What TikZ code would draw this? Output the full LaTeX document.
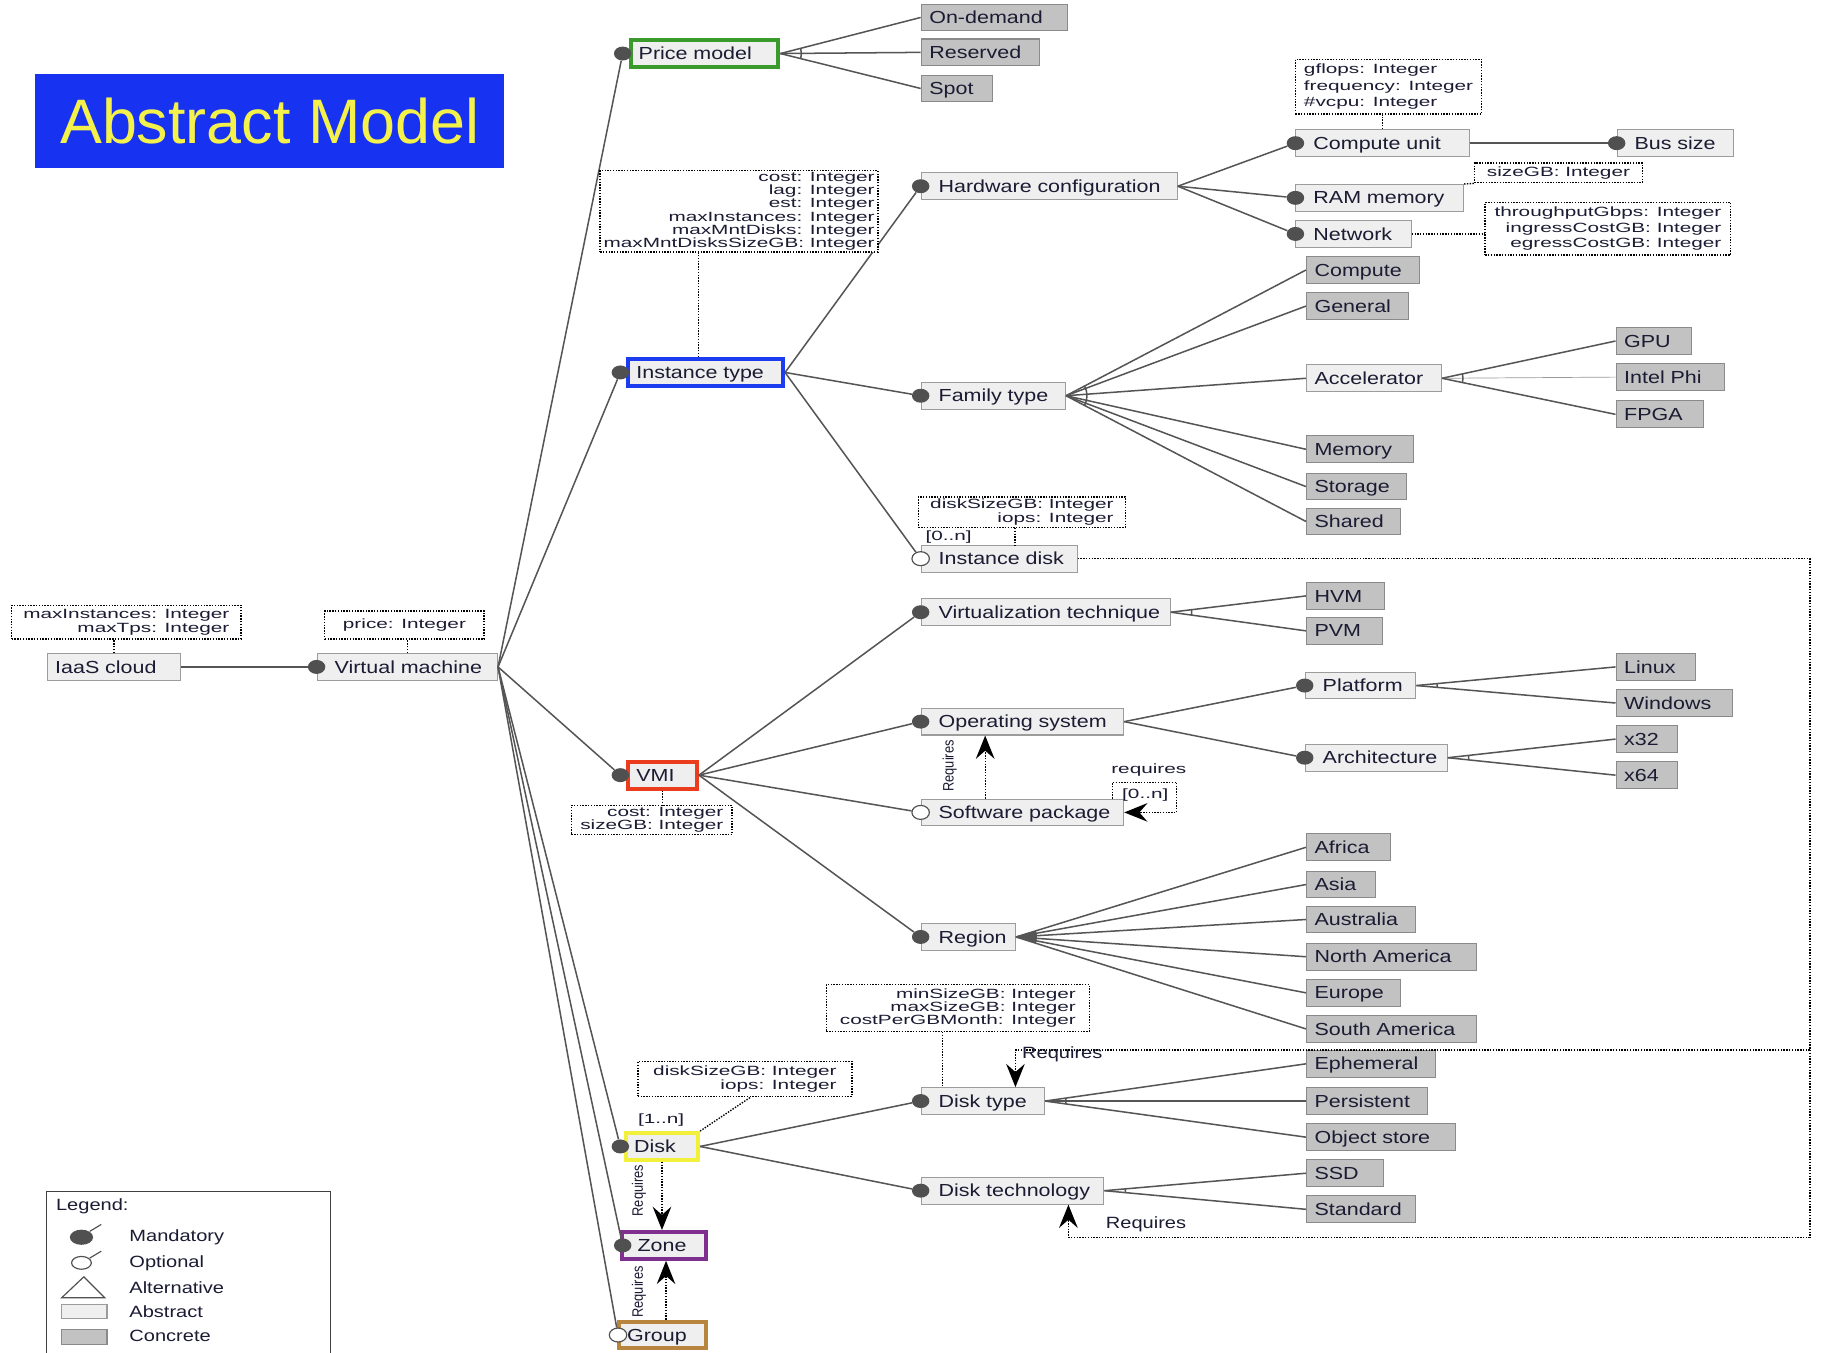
\documentclass[tikz,border=0pt]{standalone}
\usepackage{fontspec}
\setmainfont{Liberation Sans}
\newfontfamily\featfont{Liberation Sans}[FakeStretch=1.23]
\newfontfamily\attrfont{Liberation Sans}[FakeStretch=1.55]
\newfontfamily\narrowfont{Liberation Sans}[FakeStretch=0.85]
\usetikzlibrary{arrows.meta,calc,shapes.geometric}

\definecolor{absfill}{HTML}{EFEFEF}
\definecolor{absdraw}{HTML}{9C9C9C}
\definecolor{confill}{HTML}{C2C2C2}
\definecolor{condraw}{HTML}{8A8A8A}
\definecolor{edge}{HTML}{555555}
\definecolor{ink}{HTML}{1B1B33}
\definecolor{markc}{HTML}{505050}
\definecolor{hlgreen}{HTML}{3A9A2C}
\definecolor{hlblue}{HTML}{1C3CF0}
\definecolor{hlred}{HTML}{EC3C1E}
\definecolor{hlyellow}{HTML}{F3F03C}
\definecolor{hlpurple}{HTML}{7F2F8D}
\definecolor{hlbrown}{HTML}{B8853F}
\definecolor{titlebg}{HTML}{1832F2}
\definecolor{titlefg}{HTML}{F4F24A}

\newcommand\featpad{\hspace*{8pt}}

\tikzset{
  feat/.style={minimum height=23pt, inner xsep=7pt, inner ysep=0pt, anchor=west,
    align=left, text=ink, text height=10.5pt, text depth=0pt,
    font=\featfont\fontsize{15}{16}\selectfont, line width=0.9pt},
  abstr/.style={feat, draw=absdraw, fill=absfill},
  concr/.style={feat, draw=condraw, fill=confill},
  wd/.style={text width=#1pt-14pt},
  hl/.style={feat, draw=#1, fill=absfill, line width=3.5pt},
  mand/.style={ellipse, fill=markc, minimum width=15pt, minimum height=12pt, inner sep=0pt},
  opt/.style={ellipse, draw=markc, fill=white, line width=1pt, minimum width=15pt, minimum height=12pt, inner sep=0pt},
  link/.style={draw=edge, line width=1.3pt},
  attr/.style={draw=black, dash pattern=on 1.2pt off 1.2pt, line width=1.2pt, fill=white,
    inner xsep=3pt, inner ysep=1pt, text=ink, font=\attrfont\fontsize{11.5}{11.5}\selectfont},
  attrlink/.style={draw=black, dash pattern=on 1.2pt off 1.2pt, line width=1.2pt},
  req/.style={attrlink, -{Stealth[length=20pt,width=16pt,inset=7pt]}},
  lbl/.style={text=ink, inner sep=0pt, font=\featfont\fontsize{14}{14}\selectfont},
  vlbl/.style={text=ink, inner sep=0pt, rotate=90, font=\narrowfont\fontsize{13}{13}\selectfont},
  smalllbl/.style={text=ink, inner sep=0pt, font=\attrfont\fontsize{11.5}{11.5}\selectfont},
}

% alternative group: open arc between first and last child edge
\newcommand\featalt[3]{%
  \draw[link] let \p1=($(#2.west)-(#1.east)$), \p2=($(#3.west)-(#1.east)$),
    \n1={atan2(\y1,\x1)}, \n2={atan2(\y2,\x2)} in
    ($(#1.east)+(\n1:18pt)$) arc[start angle=\n1, end angle=\n2, radius=18pt];}
% or group: filled sector
\newcommand\feator[3]{%
  \fill[edge] let \p1=($(#2.west)-(#1.east)$), \p2=($(#3.west)-(#1.east)$),
    \n1={atan2(\y1,\x1)}, \n2={atan2(\y2,\x2)} in
    (#1.east) -- ($(#1.east)+(\n1:18pt)$) arc[start angle=\n1, end angle=\n2, radius=18pt] -- cycle;}

\begin{document}
\begin{tikzpicture}[x=1pt,y=-1pt]
\useasboundingbox (0,0) rectangle (1568,1162);
\fill[white] (0,0) rectangle (1568,1162);

% title
\node[fill=titlebg, minimum width=403pt, minimum height=81pt, anchor=north west, inner sep=0pt,
  text=titlefg, font=\fontsize{54}{60}\selectfont] (title) at (30,63) {Abstract Model};

% ---------- feature boxes ----------
\node[abstr, wd=115] (iaas) at (40,573) {IaaS cloud};
\node[abstr, wd=155] (vm) at (272,573) {\featpad Virtual machine};

\node[hl=hlgreen, wd=127] (pm) at (540,46) {Price model};
\node[concr, wd=126] (ondemand) at (791,15) {On-demand};
\node[concr, wd=102] (reserved) at (791,45) {Reserved};
\node[concr, wd=61] (spot) at (791,76) {Spot};

\node[hl=hlblue, wd=133] (it) at (538,320) {Instance type};
\node[abstr, wd=220] (hw) at (791,160) {\featpad Hardware configuration};
\node[abstr, wd=149] (cu) at (1113,123) {\featpad Compute unit};
\node[abstr, wd=100] (bus) at (1389,123) {\featpad Bus size};
\node[abstr, wd=144] (ram) at (1113,170) {\featpad RAM memory};
\node[abstr, wd=99] (net) at (1113,201) {\featpad Network};

\node[abstr, wd=124] (ft) at (791,340) {\featpad Family type};
\node[concr, wd=97] (compute) at (1122,232) {Compute};
\node[concr, wd=88] (general) at (1122,263) {General};
\node[abstr, wd=116] (accel) at (1122,325) {Accelerator};
\node[concr, wd=65] (gpu) at (1388,293) {GPU};
\node[concr, wd=93] (phi) at (1388,324) {Intel Phi};
\node[concr, wd=75] (fpga) at (1388,356) {FPGA};
\node[concr, wd=92] (memory) at (1122,386) {Memory};
\node[concr, wd=86] (storage) at (1122,418) {Storage};
\node[concr, wd=81] (shared) at (1122,448) {Shared};
\node[abstr, wd=134] (idisk) at (791,480) {\featpad Instance disk};

\node[hl=hlred, wd=59] (vmi) at (538,666) {VMI};
\node[abstr, wd=214] (vt) at (791,526) {\featpad Virtualization technique};
\node[concr, wd=67] (hvm) at (1122,512) {HVM};
\node[concr, wd=65] (pvm) at (1122,542) {PVM};
\node[abstr, wd=174] (os) at (791,620) {\featpad Operating system};
\node[abstr, wd=95] (plat) at (1121,589) {\featpad Platform};
\node[concr, wd=68] (linux) at (1388,573) {Linux};
\node[concr, wd=100] (windows) at (1388,604) {Windows};
\node[abstr, wd=122] (arch) at (1121,651) {\featpad Architecture};
\node[concr, wd=53] (x32) at (1388,635) {x32};
\node[concr, wd=53] (x64) at (1388,666) {x64};
\node[abstr, wd=174] (sp) at (791,698) {\featpad Software package};
\node[abstr, wd=81] (region) at (791,805) {\featpad Region};
\node[concr, wd=72] (africa) at (1122,728) {Africa};
\node[concr, wd=59] (asia) at (1122,760) {Asia};
\node[concr, wd=94] (australia) at (1122,790) {Australia};
\node[concr, wd=146] (namerica) at (1122,822) {North America};
\node[concr, wd=81] (europe) at (1122,853) {Europe};
\node[concr, wd=146] (samerica) at (1122,884) {South America};

\node[hl=hlyellow, wd=62] (disk) at (536,985) {Disk};
\node[abstr, wd=106] (dt) at (791,946) {\featpad Disk type};
\node[concr, wd=111] (ephemeral) at (1122,914) {Ephemeral};
\node[concr, wd=104] (persistent) at (1122,946) {Persistent};
\node[concr, wd=128] (objstore) at (1122,977) {Object store};
\node[abstr, wd=157] (dtech) at (791,1023) {\featpad Disk technology};
\node[concr, wd=66] (ssd) at (1122,1008) {SSD};
\node[concr, wd=94] (standard) at (1122,1039) {Standard};
\node[hl=hlpurple, wd=72] (zone) at (533,1070) {\hspace*{6pt}Zone};
\node[hl=hlbrown, wd=75] (group) at (530,1147) {Group};

% ---------- mandatory / optional markers ----------
\node[mand] (vm-m) at (vm.west) {};
\node[mand] (pm-m) at ([xshift=-5pt]pm.west) {};
\node[mand] (it-m) at ([xshift=-5pt]it.west) {};
\node[mand] (hw-m) at (hw.west) {};
\node[mand] (cu-m) at (cu.west) {};
\node[mand] (bus-m) at (bus.west) {};
\node[mand] (ram-m) at (ram.west) {};
\node[mand] (net-m) at (net.west) {};
\node[mand] (ft-m) at (ft.west) {};
\node[opt] (idisk-m) at (idisk.west) {};
\node[mand] (vmi-m) at ([xshift=-5pt]vmi.west) {};
\node[mand] (vt-m) at (vt.west) {};
\node[mand] (os-m) at (os.west) {};
\node[mand] (plat-m) at (plat.west) {};
\node[mand] (arch-m) at (arch.west) {};
\node[opt] (sp-m) at (sp.west) {};
\node[mand] (region-m) at (region.west) {};
\node[mand] (disk-m) at ([xshift=-3pt]disk.west) {};
\node[mand] (dt-m) at (dt.west) {};
\node[mand] (dtech-m) at (dtech.west) {};
\node[mand] (zone-m) at ([xshift=2pt]zone.west) {};
\node[opt] (group-m) at ([xshift=1pt]group.west) {};

% ---------- tree edges ----------
\draw[link] (iaas.east) -- (vm-m);
\foreach \c in {pm-m,it-m,vmi-m,disk-m,zone-m,group-m}
  \draw[link] (vm.east) -- (\c);

\foreach \c in {ondemand,reserved,spot} \draw[link] (pm.east) -- (\c.west);
\featalt{pm}{ondemand}{spot}

\foreach \c in {hw-m,ft-m,idisk-m} \draw[link] (it.east) -- (\c);
\foreach \c in {cu-m,ram-m,net-m} \draw[link] (hw.east) -- (\c);
\draw[link] (cu.east) -- (bus-m);

\foreach \c in {compute,general,accel,memory,storage,shared} \draw[link] (ft.east) -- (\c.west);
\featalt{ft}{compute}{shared}
\draw[link] (accel.east) -- (gpu.west);
\draw[link, line width=0.6pt, draw=edge!60] (accel.east) -- (phi.west);
\draw[link] (accel.east) -- (fpga.west);
\featalt{accel}{gpu}{fpga}

\foreach \c in {vt-m,os-m,sp-m,region-m} \draw[link] (vmi.east) -- (\c);
\foreach \c in {hvm,pvm} \draw[link] (vt.east) -- (\c.west);
\featalt{vt}{hvm}{pvm}
\foreach \c in {plat-m,arch-m} \draw[link] (os.east) -- (\c);
\foreach \c in {linux,windows} \draw[link] (plat.east) -- (\c.west);
\featalt{plat}{linux}{windows}
\foreach \c in {x32,x64} \draw[link] (arch.east) -- (\c.west);
\featalt{arch}{x32}{x64}
\foreach \c in {africa,asia,australia,namerica,europe,samerica} \draw[link] (region.east) -- (\c.west);
\feator{region}{africa}{samerica}

\foreach \c in {dt-m,dtech-m} \draw[link] (disk.east) -- (\c);
\foreach \c in {ephemeral,persistent,objstore} \draw[link] (dt.east) -- (\c.west);
\featalt{dt}{ephemeral}{objstore}
\foreach \c in {ssd,standard} \draw[link] (dtech.east) -- (\c.west);
\featalt{dtech}{ssd}{standard}

% ---------- attribute boxes ----------
\node[attr, minimum width=197pt, minimum height=29pt, align=right] (ab-iaas) at (108.5,534.5)
  {maxInstances: Integer\\maxTps: Integer};
\node[attr, minimum width=137pt, minimum height=24pt] (ab-vm) at (347.5,537) {price: Integer};
\node[attr, minimum width=232pt, minimum height=69pt, align=right] (ab-it) at (635,181.5)
  {cost: Integer\\lag: Integer\\est: Integer\\maxInstances: Integer\\maxMntDisks: Integer\\maxMntDisksSizeGB: Integer};
\node[attr, minimum width=160pt, minimum height=47pt, align=left, font=\attrfont\fontsize{11.5}{14}\selectfont] (ab-cu) at (1193,74.5)
  {gflops: Integer\\frequency: Integer\\\#vcpu: Integer};
\node[attr, minimum width=144pt, minimum height=17pt] (ab-ram) at (1339,148.5) {sizeGB: Integer};
\node[attr, minimum width=211pt, minimum height=45pt, align=right, font=\attrfont\fontsize{11.5}{13.5}\selectfont] (ab-net) at (1381.5,196.5)
  {throughputGbps: Integer\\ingressCostGB: Integer\\egressCostGB: Integer};
\node[attr, minimum width=178pt, minimum height=26pt, align=right] (ab-idisk) at (878,440)
  {diskSizeGB: Integer\\iops: Integer};
\node[attr, minimum width=138pt, minimum height=25pt, align=right] (ab-vmi) at (560,704.5)
  {cost: Integer\\sizeGB: Integer};
\node[attr, minimum width=226pt, minimum height=40pt, align=right] (ab-dt) at (823,866)
  {minSizeGB: Integer\\maxSizeGB: Integer\\costPerGBMonth: Integer};
\node[attr, minimum width=184pt, minimum height=30pt, align=right] (ab-disk) at (640,927)
  {diskSizeGB: Integer\\iops: Integer};

\draw[attrlink] (iaas.north) -- (iaas.north |- ab-iaas.south);
\draw[attrlink] (vm.north) -- (vm.north |- ab-vm.south);
\draw[attrlink] ([xshift=-6pt]it.north) -- ([xshift=-6pt]it.north |- ab-it.south);
\draw[attrlink] (cu.north) -- (cu.north |- ab-cu.south);
\draw[attrlink] (ram.north east) -- (ab-ram.south west);
\draw[attrlink] (net.east) -- (net.east -| ab-net.west);
\draw[attrlink] ([xshift=-6pt]ab-idisk.south) -- ([xshift=-6pt]ab-idisk.south |- idisk.north);
\draw[attrlink] (vmi.south) -- (vmi.south |- ab-vmi.north);
\draw[attrlink] ([xshift=-13pt]ab-dt.south) -- ([xshift=-13pt]ab-dt.south |- dt.north);
\draw[attrlink] (disk.north east) -- ([xshift=5pt]ab-disk.south);

\node[smalllbl, anchor=west] (card-idisk) at (795,461) {[0..n]};
\node[smalllbl, anchor=west] (card-disk) at (548,962) {[1..n]};

% ---------- cross-tree constraints ----------
\draw[req] ([xshift=-32pt]sp.north) -- ([xshift=-32pt]os.south);
\node[vlbl] (req-os) at (816,658) {Requires};

\coordinate (loop-a) at ($(sp.north east)+(-10,-14)$);
\coordinate (loop-b) at ($(sp.east)+(45,0)$);
\draw[req] ([xshift=-10pt]sp.north east) -- (loop-a) -| (loop-b) -- (sp.east);
\node[smalllbl] (req-sp) at (987,662) {requires};
\node[smalllbl] (card-sp) at (984,683) {[0..n]};

\coordinate (frame-dt) at (1555,902);
\coordinate (frame-bot) at (1555,1063);
\draw[attrlink] (idisk.east) -| (frame-bot);
\draw[req] (frame-dt) -| ([xshift=28pt]dt.north);
\draw[req] (frame-bot) -| ([xshift=48pt]dtech.south);
\node[lbl, anchor=west] (req-dt) at (878,906) {Requires};
\node[lbl, anchor=west] (req-dtech) at (950,1052) {Requires};

\draw[req] (disk.south) -- (disk.south |- zone.north);
\node[vlbl] (req-zone) at (549,1023) {Requires};
\draw[req] ([xshift=3pt]group.north) -- ([xshift=3pt]group.north |- zone.south);
\node[vlbl] (req-group) at (549,1110) {Requires};

% ---------- legend ----------
\draw[line width=1pt, draw=black!75] (40,1170) -- (40,1024) -- (284,1024) -- (284,1170);
\node[lbl, anchor=west] (lg-title) at (48,1036) {Legend:};
\fill[markc] (70,1063) ellipse (10pt and 6.5pt);
\draw[markc, line width=1pt] (77,1058) -- (87,1052);
\draw[markc, line width=1pt] (70,1085) ellipse (8.5pt and 5.5pt);
\draw[markc, line width=1pt] (77,1081) -- (87,1075);
\draw[markc, line width=1pt] (53,1115) -- (72,1097) -- (90,1115) -- cycle;
\draw[absdraw, fill=absfill, line width=1pt] (53,1121) rectangle (92,1133);
\draw[condraw, fill=confill, line width=1pt] (53,1142) rectangle (92,1155);
\node[lbl, anchor=west] (lg-mand) at (111,1063) {Mandatory};
\node[lbl, anchor=west] (lg-opt) at (111,1085) {Optional};
\node[lbl, anchor=west] (lg-alt) at (111,1106) {Alternative};
\node[lbl, anchor=west] (lg-abs) at (111,1127) {Abstract};
\node[lbl, anchor=west] (lg-con) at (111,1148) {Concrete};
\end{tikzpicture}
\end{document}
